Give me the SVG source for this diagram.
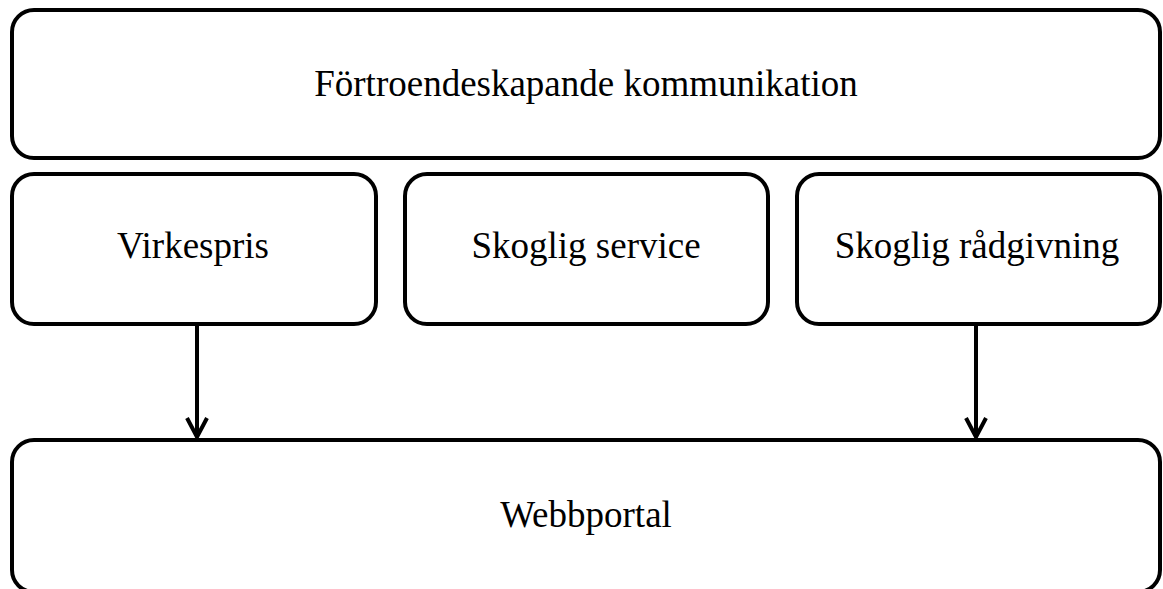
<svg xmlns="http://www.w3.org/2000/svg" width="1163" height="589" viewBox="0 0 1163 589">
<style>
.box{fill:#fff;stroke:#000;stroke-width:4}
.lbl{font-family:"Liberation Serif","Times New Roman",serif;font-size:37px;fill:#000;text-anchor:middle}
.con{stroke:#000;stroke-width:4;fill:none}
</style>
<rect width="1163" height="589" fill="#fff"/>
<g id="node-top"><rect class="box" x="12" y="10" width="1148" height="148" rx="22"/><text class="lbl" x="586" y="96">Förtroendeskapande kommunikation</text></g>
<g id="node-virkespris"><rect class="box" x="12" y="174" width="364" height="150" rx="22"/><text class="lbl" x="193" y="258">Virkespris</text></g>
<g id="node-service"><rect class="box" x="405" y="174" width="363" height="150" rx="22"/><text class="lbl" x="586" y="258">Skoglig service</text></g>
<g id="node-radgivning"><rect class="box" x="797" y="174" width="363" height="150" rx="22"/><text class="lbl" x="977" y="258">Skoglig rådgivning</text></g>
<g id="node-webbportal"><rect class="box" x="12" y="440" width="1148" height="152" rx="22"/><text class="lbl" x="586" y="527">Webbportal</text></g>
<g id="connectors">
<path class="con" d="M197 324 V437"/>
<path class="con" d="M187 418 L197 437 L207 418"/>
<path class="con" d="M976 324 V437"/>
<path class="con" d="M966 418 L976 437 L986 418"/>
</g>
</svg>
